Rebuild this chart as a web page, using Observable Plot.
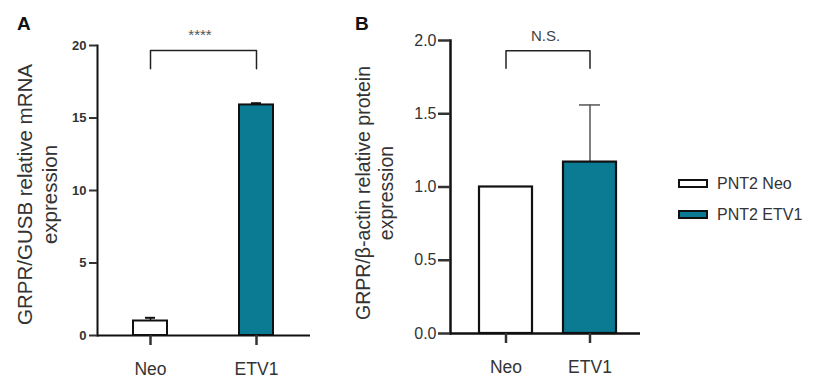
<!DOCTYPE html>
<html>
<head>
<meta charset="utf-8">
<script src="https://cdn.jsdelivr.net/npm/d3@7"></script>
<script src="https://cdn.jsdelivr.net/npm/@observablehq/plot@0.6"></script>
<style>
  html, body { margin: 0; padding: 0; background: #fff; }
  #root { position: relative; width: 822px; height: 378px; overflow: hidden; font-family: "Liberation Sans", Arial, sans-serif; color: #333; }
  .panel { position: absolute; top: 0; }
  .plabel { position: absolute; font-weight: bold; font-size: 19px; color: #111; }
  .legend { position: absolute; left: 678px; top: 168px; }
  .legrow { display: flex; align-items: center; height: 31px; font-size: 16px; color: #333; }
  .sw { width: 26px; height: 5px; border: 2px solid #111; margin-right: 9px; }
</style>
</head>
<body>
<div id="root">
  <div class="plabel" style="left:17px; top:13px;">A</div>
  <div class="plabel" style="left:355px; top:13px;">B</div>
  <div id="pa" class="panel" style="left:0px;"></div>
  <div id="pb" class="panel" style="left:330px;"></div>
  <div id="legend" class="legend"></div>
</div>
<script>
// ---- data ----
const groups = ["Neo", "ETV1"];
const fillColors = ["#ffffff", "#0a7b93"];
const legendLabels = ["PNT2 Neo", "PNT2 ETV1"];

const mrnaMean = [1.0, 15.9];
const mrnaErr = [0.22, 0.12];
const mrnaTicks = [0, 5, 10, 15, 20];
const mrnaLabel = "GRPR/GUSB relative mRNA\nexpression";
const mrnaSig = "****";

const proteinMean = [1.0, 1.17];
const proteinErr = [0, 0.39];
const proteinTicks = [0, 0.5, 1.0, 1.5, 2.0];
const proteinLabel = "GRPR/\u03B2-actin relative protein\nexpression";
const proteinSig = "N.S.";

const font = "Liberation Sans, Arial, sans-serif";

function table(means, errs) {
  return groups.map((g, i) => ({group: g, mean: means[i], err: errs[i], top: means[i] + errs[i], fill: fillColors[i]}));
}

function bracket(yTop, yLeg) {
  return [
    {group: groups[0], y: yLeg},
    {group: groups[0], y: yTop},
    {group: groups[1], y: yTop},
    {group: groups[1], y: yLeg}
  ];
}

// ---- Panel A ----
const dA = table(mrnaMean, mrnaErr);
const plotA = Plot.plot({
  width: 330, height: 378,
  marginLeft: 97, marginRight: 20, marginTop: 45, marginBottom: 43,
  style: {fontFamily: font, color: "#333", background: "transparent", overflow: "visible"},
  x: {domain: groups, paddingInner: 0.679, paddingOuter: 0.344, align: 0.5, label: null},
  y: {domain: [0, 20], label: null},
  marks: [
    Plot.ruleX(dA, {x: "group", y1: "mean", y2: "top", stroke: "#111", strokeWidth: 1.5}),
    Plot.tickY(dA, {x: "group", y: "top", stroke: "#111", strokeWidth: 2, insetLeft: 12, insetRight: 12}),
    Plot.barY(dA, {x: "group", y: "mean", fill: "fill", stroke: "#111", strokeWidth: 2}),
    Plot.ruleY([0], {stroke: "#111", strokeWidth: 2}),
    Plot.frame({anchor: "left", stroke: "#111", strokeWidth: 2}),
    Plot.axisY({ticks: mrnaTicks, tickSize: 8, tickPadding: 3, fontSize: 13, fontWeight: "bold", strokeWidth: 2, color: "#333", label: null}),
    Plot.axisX({tickSize: 10, tickPadding: 17, fontSize: 17.5, strokeWidth: 2.5, color: "#333", label: null}),
    Plot.line(bracket(19.66, 18.4), {x: "group", y: "y", stroke: "#222", strokeWidth: 1.5}),
    Plot.text([mrnaSig], {frameAnchor: "top", y: () => 21.1, text: d => d, fontSize: 15, fill: "#555", dx: -4}),
    Plot.text([mrnaLabel], {frameAnchor: "left", textAnchor: "middle", text: d => d, rotate: -90, dx: -61, dy: 4, fontSize: 20.5, lineHeight: 1.2, fill: "#333"})
  ]
});
document.getElementById("pa").appendChild(plotA);

// ---- Panel B ----
const dB = table(proteinMean, proteinErr);
const plotB = Plot.plot({
  width: 330, height: 378,
  marginLeft: 120, marginRight: 20, marginTop: 40, marginBottom: 45,
  style: {fontFamily: font, color: "#333", background: "transparent", overflow: "visible"},
  x: {domain: groups, paddingInner: 0.3728, paddingOuter: 0.3107, align: 0.55, label: null},
  y: {domain: [0, 2], label: null},
  marks: [
    Plot.ruleX(dB.filter(d => d.err > 0), {x: "group", y1: "mean", y2: "top", stroke: "#555", strokeWidth: 1.5}),
    Plot.tickY(dB.filter(d => d.err > 0), {x: "group", y: "top", stroke: "#555", strokeWidth: 1.5, insetLeft: 16, insetRight: 16}),
    Plot.barY(dB, {x: "group", y: "mean", fill: "fill", stroke: "#111", strokeWidth: 2.2}),
    Plot.ruleY([0], {stroke: "#111", strokeWidth: 2.5}),
    Plot.frame({anchor: "left", stroke: "#111", strokeWidth: 2.5}),
    Plot.axisY({ticks: proteinTicks, tickFormat: ".1f", tickSize: 12, tickPadding: 2, fontSize: 16, strokeWidth: 2.5, color: "#333", label: null}),
    Plot.axisX({tickSize: 10, tickPadding: 17, fontSize: 17.5, strokeWidth: 2.5, color: "#333", label: null}),
    Plot.line(bracket(1.93, 1.81), {x: "group", y: "y", stroke: "#222", strokeWidth: 1.5}),
    Plot.text([proteinSig], {frameAnchor: "top", y: () => 2.07, text: d => d, fontSize: 15, fill: "#444"}),
    Plot.text([proteinLabel], {frameAnchor: "left", textAnchor: "middle", text: d => d, rotate: -90, dx: -76, dy: 6, fontSize: 19.5, lineHeight: 1.15, fill: "#333"})
  ]
});
document.getElementById("pb").appendChild(plotB);

// ---- Legend ----
const leg = document.getElementById("legend");
legendLabels.forEach((lab, i) => {
  const row = document.createElement("div");
  row.className = "legrow";
  const sw = document.createElement("div");
  sw.className = "sw";
  sw.style.background = fillColors[i];
  const t = document.createElement("span");
  t.textContent = lab;
  row.appendChild(sw); row.appendChild(t);
  leg.appendChild(row);
});
</script>
</body>
</html>
